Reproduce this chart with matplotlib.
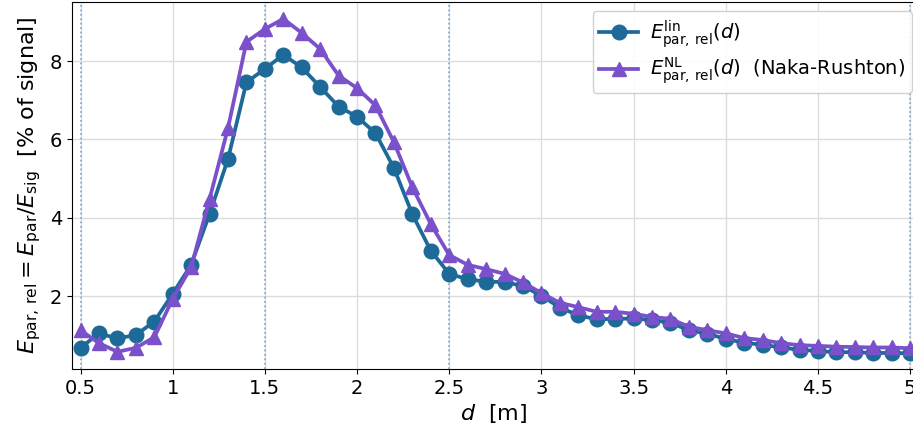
import matplotlib
matplotlib.use('Agg')
import matplotlib.pyplot as plt
import numpy as np

# distance d [m]
d = [0.5, 0.6, 0.7, 0.8, 0.9, 1.0, 1.1, 1.2, 1.3, 1.4,
     1.5, 1.6, 1.7, 1.8, 1.9, 2.0, 2.1, 2.2, 2.3, 2.4,
     2.5, 2.6, 2.7, 2.8, 2.9, 3.0, 3.1, 3.2, 3.3, 3.4,
     3.5, 3.6, 3.7, 3.8, 3.9, 4.0, 4.1, 4.2, 4.3, 4.4,
     4.5, 4.6, 4.7, 4.8, 4.9, 5.0]

# linear model, % of signal
e_lin = [0.68, 1.05, 0.92, 1.01, 1.35, 2.06, 2.80, 4.10, 5.50, 7.46,
         7.80, 8.16, 7.84, 7.34, 6.84, 6.58, 6.16, 5.27, 4.09, 3.16,
         2.57, 2.43, 2.37, 2.36, 2.26, 2.01, 1.71, 1.51, 1.41, 1.42,
         1.43, 1.39, 1.32, 1.13, 1.04, 0.91, 0.81, 0.76, 0.69, 0.63,
         0.60, 0.57, 0.57, 0.55, 0.55, 0.54]

# Naka-Rushton model, % of signal
e_nl = [1.13, 0.80, 0.58, 0.68, 0.95, 1.93, 2.74, 4.48, 6.29, 8.49,
        8.82, 9.08, 8.72, 8.31, 7.63, 7.31, 6.87, 5.93, 4.78, 3.84,
        3.05, 2.80, 2.69, 2.57, 2.35, 2.08, 1.83, 1.72, 1.60, 1.60,
        1.55, 1.47, 1.42, 1.22, 1.13, 1.05, 0.93, 0.88, 0.80, 0.75,
        0.73, 0.71, 0.70, 0.69, 0.69, 0.67]

blue = '#1d6a98'
purple = '#7b51cb'

fig = plt.figure(figsize=(9.13, 4.38), dpi=100)
ax = fig.add_axes([0.0789, 0.1575, 0.924, 0.838])

for xv in [0.5, 1.5, 2.5, 5.0]:
    ax.axvline(xv, color='#7aa6c8', ls=':', lw=1.2, zorder=1)

ax.plot(d, e_lin, '-o', color=blue, lw=2.7, ms=10.5, zorder=3,
        label=r'$E^{\mathrm{lin}}_{\mathrm{par,\,rel}}(d)$')
ax.plot(d, e_nl, '-^', color=purple, lw=2.7, ms=10.5, zorder=4,
        label=r'$E^{\mathrm{NL}}_{\mathrm{par,\,rel}}(d)$  (Naka-Rushton)')

ax.set_xlim(0.454, 5.03)
ax.set_ylim(0.14, 9.51)
ax.set_xticks([0.5, 1, 1.5, 2, 2.5, 3, 3.5, 4, 4.5, 5])
ax.set_xticklabels(['0.5', '1', '1.5', '2', '2.5', '3', '3.5', '4', '4.5', '5'])
ax.set_yticks([2, 4, 6, 8])
ax.tick_params(labelsize=14)
ax.grid(True, color='#dcdcdc', lw=1.0, zorder=0)
ax.set_axisbelow(True)

ax.set_xlabel(r'$d$  [m]', fontsize=16, labelpad=3)
ax.set_ylabel(r'$E_{\mathrm{par,\,rel}} = E_{\mathrm{par}}/E_{\mathrm{sig}}$  [% of signal]',
              fontsize=16, labelpad=5)

ax.legend(loc='upper right', fontsize=14, framealpha=0.9,
          labelspacing=0.3, handletextpad=0.6, borderpad=0.35,
          bbox_to_anchor=(912 / 913, 1 - 11 / 438), bbox_transform=fig.transFigure,
          borderaxespad=0)

fig.savefig('out.png', dpi=100)
